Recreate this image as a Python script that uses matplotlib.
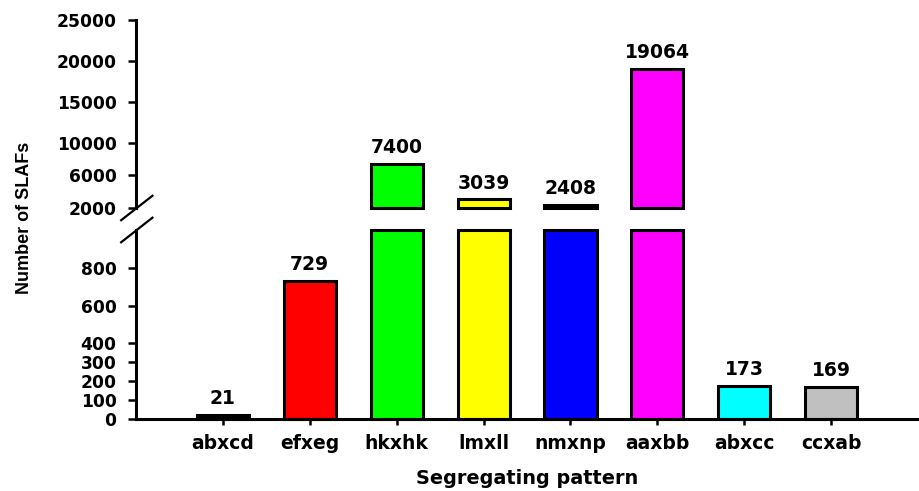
import numpy as np
import matplotlib
matplotlib.use("Agg")
import matplotlib.pyplot as plt

# data
patterns = ["abxcd", "efxeg", "hkxhk", "lmxll", "nmxnp", "aaxbb", "abxcc", "ccxab"]
counts = [21, 729, 7400, 3039, 2408, 19064, 173, 169]
colors = ["#000000", "#ff0000", "#00ff00", "#ffff00", "#0000ff", "#ff00ff", "#00ffff", "#c0c0c0"]
low_ticks = [0, 100, 200, 300, 400, 600, 800]
high_ticks = [2000, 6000, 10000, 15000, 20000, 25000]

low_lim = (0, 1000)
high_lim = (2000, 25000)

tick_font = dict(family="DejaVu Sans", weight="bold", size=12.3)
xtick_font = dict(family="DejaVu Sans", weight="bold", size=13.5)
label_font = dict(family="DejaVu Sans", weight="bold", size=13.9)

fig = plt.figure(figsize=(9.19, 4.91), dpi=100)
ax_hi = fig.add_axes([0.148, 0.5764, 0.851, 0.3829])
ax_lo = fig.add_axes([0.148, 0.1466, 0.851, 0.3850])

x = np.arange(len(patterns))
vals = np.array(counts, dtype=float)
lw = 2.2

# lower part: bars cut at the top of the lower range
ax_lo.bar(x, np.minimum(vals, low_lim[1]), width=0.6, color=colors,
          edgecolor="black", linewidth=lw, clip_on=False)
# upper part: only bars that reach above the break
big = vals > high_lim[0]
ax_hi.bar(x[big], vals[big] - high_lim[0], bottom=high_lim[0], width=0.6,
          color=[c for c, b in zip(colors, big) if b],
          edgecolor="black", linewidth=lw, clip_on=False)

for ax, lim, ticks in [(ax_lo, low_lim, low_ticks), (ax_hi, high_lim, high_ticks)]:
    ax.set_xlim(-1, 8)
    ax.set_ylim(*lim)
    ax.set_yticks(ticks)
    ax.set_yticklabels([str(t) for t in ticks], fontdict=tick_font)
    ax.spines["top"].set_visible(False)
    ax.spines["right"].set_visible(False)
    for s in ["left", "bottom"]:
        ax.spines[s].set_linewidth(2.2)
    ax.tick_params(axis="y", direction="out", length=6, width=1.8, pad=8)

ax_hi.spines["bottom"].set_visible(False)
ax_hi.set_xticks([])

ax_lo.set_xticks(x)
ax_lo.set_xticklabels(patterns, fontdict=xtick_font)
ax_lo.tick_params(axis="x", direction="out", length=4, width=1.8, pad=7)
ax_lo.set_xlabel("Segregating pattern", fontdict=label_font, labelpad=11)

fig.text(0.027, 0.557, "Number of SLAFs", rotation=90, va="center", ha="center",
         family="Liberation Sans", weight="bold", size=13)

# value labels above each bar
for xi, v in zip(x, counts):
    ax = ax_hi if v > high_lim[0] else ax_lo
    ax.annotate(str(v), (xi, v), xytext=(0, 5), textcoords="offset points",
                ha="center", va="bottom", family="DejaVu Sans", weight="bold",
                size=13.5)

# break marks on the y axis
kw = dict(color="black", lw=1.6, clip_on=False)
ax_hi.plot([-0.019, 0.021], [-0.065, 0.065], transform=ax_hi.transAxes, **kw)
ax_lo.plot([-0.019, 0.021], [1 - 0.065, 1 + 0.065], transform=ax_lo.transAxes, **kw)

fig.savefig("out.png", dpi=100)
